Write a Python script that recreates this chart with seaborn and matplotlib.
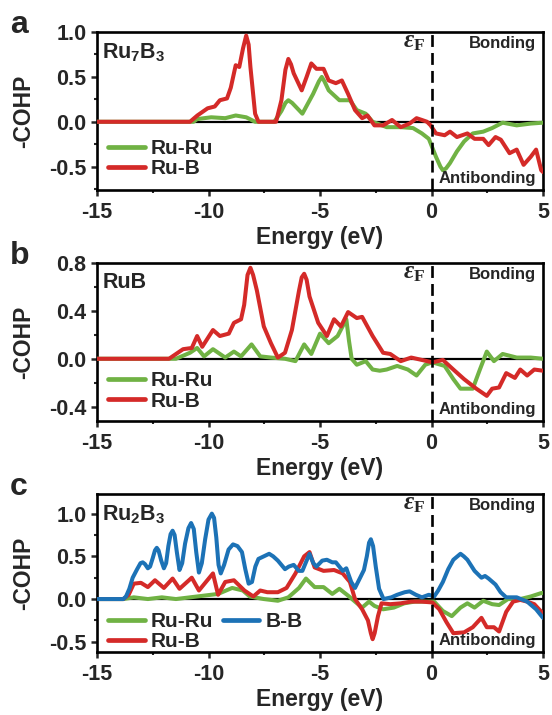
import numpy as np
import pandas as pd
import matplotlib
matplotlib.use("Agg")
import matplotlib.pyplot as plt
from matplotlib.ticker import MultipleLocator
import seaborn as sns

# ---------------- data ----------------
# Panel a: Ru7B3
a_ruru_E = [-15, -10.67, -10.51, -9.88, -9.25, -8.78, -8.31, -7.91, -7.05, -6.73, -6.55, -6.42, -6.25,
            -5.79, -5.31, -5.05, -4.92, -4.8, -4.61, -4.13, -3.66, -3.35, -2.95, -2.64, -2.01, -1.38,
            -0.83, -0.43, -0.12, 0.2, 0.4, 0.51, 0.65, 0.83, 1.14, 1.46, 1.85, 2.32, 2.72, 3.19, 3.82,
            4.45, 5.0]
a_ruru_V = [0, 0, 0.03, 0.05, 0.04, 0.07, 0.05, 0.0, 0, 0.12, 0.21, 0.24, 0.21,
            0.09, 0.31, 0.45, 0.50, 0.45, 0.35, 0.24, 0.24, 0.13, 0.09, 0.0, -0.06, -0.06,
            -0.07, -0.13, -0.19, -0.39, -0.50, -0.54, -0.52, -0.46, -0.33, -0.22, -0.13, -0.11, -0.07,
            -0.01, -0.04, -0.02, -0.01]
a_rub_E = [-15, -10.83, -10.5, -10.04, -9.72, -9.49, -9.17, -9.0, -8.78, -8.62, -8.45, -8.31, -8.2,
           -8.12, -7.91, -7.76, -6.97, -6.73, -6.55, -6.42, -6.3, -6.18, -5.82, -5.6, -5.39, -5.16,
           -4.84, -4.61, -4.29, -4.02, -3.74, -3.43, -3.11, -2.87, -2.56, -2.17, -1.77, -1.38, -0.98,
           -0.67, -0.43, -0.2, -0.04, 0.2, 0.59, 0.83, 1.14, 1.61, 1.93, 2.32, 2.56, 2.87, 3.11, 3.5,
           3.82, 4.13, 4.45, 4.69, 4.92, 5.0]
a_rub_V = [0, 0, 0.07, 0.15, 0.17, 0.24, 0.26, 0.38, 0.63, 0.61, 0.82, 0.96, 0.86,
           0.61, 0.09, 0, 0, 0.24, 0.58, 0.70, 0.64, 0.54, 0.35, 0.50, 0.65, 0.59,
           0.59, 0.46, 0.43, 0.46, 0.31, 0.13, 0.04, 0.07, -0.04, -0.04, 0.02, -0.06, -0.02,
           0.04, 0.02, 0.0, -0.04, -0.13, -0.15, -0.11, -0.17, -0.13, -0.19, -0.19, -0.26, -0.17,
           -0.20, -0.35, -0.31, -0.48, -0.39, -0.31, -0.54, -0.56]

# Panel b: RuB
b_ruru_E = [-15, -11.46, -10.83, -10.51, -10.2, -9.8, -9.25, -8.86, -8.54, -8.07, -7.68, -7.2,
            -6.57, -6.1, -5.71, -5.39, -5.0, -4.61, -4.21, -3.82, -3.7, -3.58, -3.35, -2.95, -2.64,
            -2.32, -2.01, -1.54, -1.06, -0.67, -0.28, 0.04, 0.59, 0.98, 1.3, 1.85, 2.17, 2.48,
            2.8, 3.19, 3.82, 4.45, 5.0]
b_ruru_V = [0, 0, 0.05, 0.09, 0.02, 0.08, 0.01, 0.06, 0.02, 0.12, 0.02, 0.01,
            0, -0.02, 0.12, 0.04, 0.21, 0.13, 0.19, 0.33, 0.15, 0.0, -0.05, -0.02, -0.09,
            -0.10, -0.09, -0.06, -0.09, -0.14, -0.05, -0.03, -0.06, -0.17, -0.25, -0.25, -0.09, 0.06,
            -0.02, 0.04, 0.01, 0.01, 0]
b_rub_E = [-15, -11.77, -11.14, -10.75, -10.51, -10.28, -9.8, -9.49, -9.09, -8.86, -8.54, -8.4,
           -8.25, -8.12, -8.0, -7.83, -7.52, -7.2, -6.89, -6.57, -6.26, -5.94, -5.82, -5.71, -5.6,
           -5.47, -5.08, -4.69, -4.37, -4.06, -3.74, -3.35, -3.11, -2.64, -2.17, -1.85, -1.38, -0.91,
           -0.43, 0.04, 0.51, 0.98, 1.46, 2.01, 2.48, 2.72, 3.03, 3.35, 3.74, 3.98, 4.29, 4.61, 5.0]
b_rub_V = [0, 0, 0.08, 0.09, 0.19, 0.10, 0.24, 0.19, 0.21, 0.30, 0.33, 0.45,
           0.70, 0.76, 0.70, 0.57, 0.27, 0.13, 0.01, 0.05, 0.24, 0.57, 0.68, 0.71, 0.66,
           0.52, 0.30, 0.19, 0.33, 0.27, 0.39, 0.34, 0.35, 0.19, 0.05, 0.04, -0.02, 0.01,
           -0.01, -0.03, -0.01, -0.09, -0.17, -0.25, -0.31, -0.25, -0.24, -0.12, -0.16, -0.09, -0.14,
           -0.09, -0.10]

# Panel c: Ru2B3
c_ruru_E = [-15, -13.82, -13.35, -12.72, -12.09, -11.46, -10.83, -10.2, -9.57, -8.94, -8.46, -8.15,
            -7.52, -6.89, -6.42, -5.94, -5.63, -5.24, -4.84, -4.45, -4.13, -3.74, -3.43, -3.11,
            -2.8, -2.56, -2.17, -1.69, -1.22, -0.75, -0.28, 0.12, 0.51, 0.91, 1.3, 1.61, 1.93,
            2.32, 2.72, 3.03, 3.43, 3.98, 4.45, 4.92, 5.0]
c_ruru_V = [0, 0, 0.02, 0.0, 0.02, 0.0, 0.02, 0.04, 0.06, 0.13, 0.10, 0.03,
            0.0, -0.02, 0.02, 0.13, 0.24, 0.14, 0.14, 0.06, 0.12, 0.04, -0.03, -0.10,
            -0.03, -0.08, -0.12, -0.10, -0.05, -0.03, -0.03, -0.03, -0.14, -0.20, -0.10, -0.05, -0.10,
            -0.02, -0.06, -0.07, 0.0, 0.0, 0.03, 0.07, 0.07]
c_rub_E = [-15, -13.82, -13.58, -13.35, -13.03, -12.72, -12.4, -12.0, -11.61, -11.3, -10.75, -10.43,
           -9.8, -9.57, -9.25, -8.86, -8.39, -7.99, -7.68, -7.36, -6.89, -6.5, -6.1, -5.71,
           -5.47, -5.24, -4.84, -4.37, -3.98, -3.66, -3.43, -3.11, -2.85, -2.72, -2.64, -2.55, -2.4,
           -2.24, -1.85, -1.38, -0.91, -0.43, 0.04, 0.35, 0.67, 0.98, 1.46, 1.85, 2.24, 2.48, 2.8,
           3.03, 3.35, 3.66, 3.98, 4.29, 4.61, 5.0]
c_rub_V = [0, 0, 0.05, 0.18, 0.19, 0.14, 0.22, 0.13, 0.24, 0.12, 0.25, 0.10,
           0.30, 0.05, 0.20, 0.22, 0.10, 0.03, 0.10, 0.08, 0.08, 0.13, 0.30, 0.50,
           0.55, 0.37, 0.33, 0.34, 0.30, 0.20, 0.0, -0.12, -0.25, -0.40, -0.47, -0.40, -0.20,
           -0.05, -0.06, -0.05, -0.03, -0.03, -0.04, -0.12, -0.27, -0.40, -0.39, -0.33, -0.22, -0.33,
           -0.33, -0.38, -0.15, -0.03, -0.01, -0.03, -0.06, -0.17]
c_bb_E = [-15, -13.82, -13.7, -13.55, -13.4, -13.2, -13.05, -12.95, -12.85, -12.72, -12.62, -12.5,
          -12.4, -12.32, -12.24, -12.12, -12.0, -11.9, -11.8, -11.7, -11.61, -11.52, -11.42, -11.3,
          -11.18, -11.05, -10.9, -10.78, -10.66, -10.55, -10.43, -10.3, -10.15, -10.0, -9.85, -9.75,
          -9.65, -9.55, -9.45, -9.3, -9.1, -8.9, -8.7, -8.5, -8.35, -8.2, -8.05, -7.9, -7.76, -7.52,
          -7.28, -7.1, -6.89, -6.57, -6.4, -6.18, -5.95, -5.79, -5.6, -5.47, -5.3, -5.16, -4.9,
          -4.69, -4.45, -4.29, -3.98, -3.82, -3.6, -3.43, -3.2, -3.03, -2.9, -2.8, -2.72, -2.62,
          -2.5, -2.35, -2.15, -1.8, -1.54, -1.2, -0.98, -0.7, -0.43, -0.12, 0.12, 0.3, 0.51, 0.75,
          0.98, 1.3, 1.45, 1.61, 1.93, 2.24, 2.4, 2.56, 2.87, 3.1, 3.35, 3.82, 4.29, 4.69, 5.0]
c_bb_V = [0, 0, 0.03, 0.12, 0.25, 0.35, 0.42, 0.43, 0.41, 0.36, 0.38, 0.48,
          0.57, 0.60, 0.57, 0.45, 0.36, 0.42, 0.62, 0.76, 0.80, 0.75, 0.55, 0.34,
          0.42, 0.65, 0.83, 0.89, 0.82, 0.55, 0.31, 0.42, 0.70, 0.93, 1.0, 0.95,
          0.72, 0.40, 0.30, 0.40, 0.58, 0.64, 0.62, 0.55, 0.35, 0.18, 0.20, 0.38, 0.47, 0.50,
          0.53, 0.50, 0.45, 0.35, 0.38, 0.40, 0.33, 0.33, 0.45, 0.53, 0.42, 0.38, 0.45,
          0.46, 0.43, 0.43, 0.33, 0.36, 0.20, 0.13, 0.25, 0.34, 0.50, 0.66, 0.70, 0.62,
          0.38, 0.12, 0.0, 0.02, 0.05, 0.08, 0.09, 0.05, 0.02, 0.05, 0.03, 0.10, 0.20, 0.35,
          0.46, 0.53, 0.50, 0.46, 0.33, 0.25, 0.27, 0.24, 0.17, 0.08, 0.02, 0.02, -0.03, -0.12, -0.22]

series_labels = ["Ru-Ru", "Ru-B", "B-B"]
panel_letters = ["a", "b", "c"]
compound_names = ["Ru$_{7}$B$_{3}$", "RuB", "Ru$_{2}$B$_{3}$"]
x_ticks = [-15, -10, -5, 0, 5]

# ---------------- style ----------------
sns.set_theme(style="ticks")
plt.rcParams["font.family"] = ["Liberation Sans", "DejaVu Sans"]
plt.rcParams["font.weight"] = "bold"
plt.rcParams["mathtext.fontset"] = "custom"
plt.rcParams["mathtext.rm"] = "Liberation Sans:bold"
plt.rcParams["mathtext.bf"] = "Liberation Sans:bold"
plt.rcParams["mathtext.it"] = "Liberation Serif:italic"
plt.rcParams["mathtext.sf"] = "Liberation Serif:bold"
colors = {"Ru-Ru": "#70B244", "Ru-B": "#D42A28", "B-B": "#1C72B6"}

fig = plt.figure(figsize=(5.52, 7.15), dpi=100)
L, R = 97, 543
AH = 158
tops = [32, 263, 494]
panels = [
    {"series": [("Ru-Ru", a_ruru_E, a_ruru_V), ("Ru-B", a_rub_E, a_rub_V)],
     "ylim": (-0.76, 1.0), "yticks": [-0.5, 0.0, 0.5, 1.0], "ymin": 0.25, "leg_y": 0.2},
    {"series": [("Ru-Ru", b_ruru_E, b_ruru_V), ("Ru-B", b_rub_E, b_rub_V)],
     "ylim": (-0.52, 0.8), "yticks": [-0.4, 0.0, 0.4, 0.8], "ymin": 0.2, "leg_y": 0.19},
    {"series": [("Ru-Ru", c_ruru_E, c_ruru_V), ("Ru-B", c_rub_E, c_rub_V), ("B-B", c_bb_E, c_bb_V)],
     "ylim": (-0.62, 1.23), "yticks": [-0.5, 0.0, 0.5, 1.0], "ymin": 0.25, "leg_y": 0.13},
]

for i, p in enumerate(panels):
    top = tops[i]
    ax = fig.add_axes([L / 552, 1 - (top + AH) / 715, (R - L) / 552, AH / 715])
    rows = []
    for lab, E, V in p["series"]:
        for e, v in zip(E, V):
            rows.append({"E": e, "V": v, "bond": lab})
    df = pd.DataFrame(rows)
    ax.axhline(0, color="black", lw=1.6, zorder=1)
    sns.lineplot(data=df, x="E", y="V", hue="bond", palette=colors, estimator=None,
                 sort=False, lw=2.9, ax=ax, legend=False, zorder=3)
    for ln in ax.get_lines():
        ln.set_solid_joinstyle("round")
        ln.set_solid_capstyle("round")
    ax.axvline(0, color="black", lw=1.9, ls=(0, (4.5, 2.3)), zorder=4)
    ax.set_xlim(-15, 5)
    ax.set_ylim(*p["ylim"])
    ax.set_xticks(x_ticks)
    ax.set_xticklabels([str(t) for t in x_ticks])
    ax.set_yticks(p["yticks"])
    ax.set_yticklabels(["{:.1f}".format(t) for t in p["yticks"]])
    ax.xaxis.set_minor_locator(MultipleLocator(2.5))
    ax.yaxis.set_minor_locator(MultipleLocator(p["ymin"]))
    ax.tick_params(which="major", direction="out", length=4.5, width=1.8, labelsize=15.5)
    ax.tick_params(axis="x", which="major", pad=3.8)
    ax.tick_params(axis="y", which="major", pad=3.0)
    ax.tick_params(which="minor", direction="out", length=2.5, width=1.5)
    for lbl in ax.get_xticklabels() + ax.get_yticklabels():
        lbl.set_fontweight("bold")
    for s in ax.spines.values():
        s.set_visible(True)
        s.set_linewidth(1.9)
        s.set_color("black")
    ax.set_xlabel("Energy (eV)", fontsize=16.5, fontweight="bold", labelpad=2.5)
    ax.set_ylabel("-COHP", fontsize=16.5, fontweight="bold")
    ax.yaxis.set_label_coords(-0.138, 0.5)

    # legend
    handles = [plt.Line2D([], [], color=colors[lab], lw=3.4) for lab, _, _ in p["series"]]
    labels = [lab for lab, _, _ in p["series"]]
    ncol = 2 if len(handles) > 2 else 1
    ax.legend(handles, labels, loc="center left", ncol=ncol, frameon=False,
              prop={"weight": "bold", "size": 15}, handlelength=1.75, handletextpad=0.3,
              labelspacing=0.05, columnspacing=0.45, borderpad=0.0, borderaxespad=0.0,
              bbox_to_anchor=(0.025, p["leg_y"]))

    ax.text(0.012, 0.875, compound_names[i], transform=ax.transAxes, fontsize=15.5,
            fontweight="bold", ha="left", va="center")
    ax.text(0.984, 0.925, "Bonding", transform=ax.transAxes, fontsize=12, fontweight="bold",
            ha="right", va="center")
    ax.text(0.984, 0.075, "Antibonding", transform=ax.transAxes, fontsize=12, fontweight="bold",
            ha="right", va="center")
    ax.text(-0.3, 0.94, "$\\varepsilon_{\\mathsf{F}}$", transform=ax.get_xaxis_transform(),
            fontsize=18, ha="right", va="center")
    fig.text(10 / 552, 1 - (top + 1) / 715, panel_letters[i], fontsize=23, fontweight="bold",
             ha="left", va="baseline")

fig.savefig("out.png", dpi=100)
